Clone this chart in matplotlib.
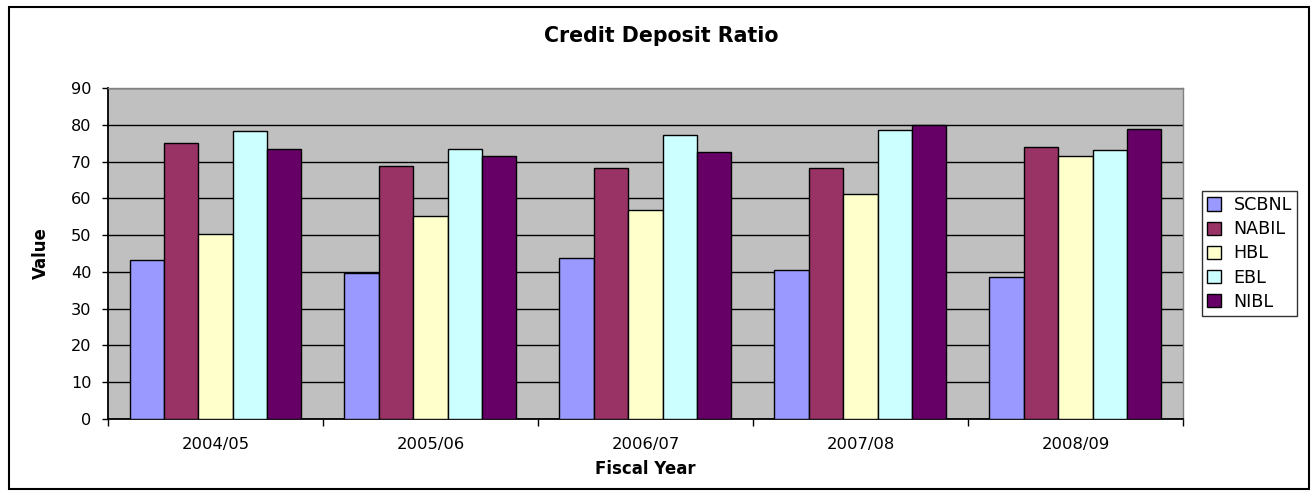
import numpy as np
import matplotlib
matplotlib.use('Agg')
import matplotlib.pyplot as plt
from matplotlib.patches import Rectangle

# wide sans to mimic the stretched Arial of the original
plt.rcParams['font.family'] = ['DejaVu Sans']

years = ['2004/05', '2005/06', '2006/07', '2007/08', '2008/09']
banks = ['SCBNL', 'NABIL', 'HBL', 'EBL', 'NIBL']
scbnl = [43.3, 39.6, 43.7, 40.6, 38.6]
nabil = [75.1, 68.7, 68.3, 68.3, 74.0]
hbl = [50.3, 55.3, 56.7, 61.3, 71.6]
ebl = [78.4, 73.4, 77.3, 78.6, 73.2]
nibl = [73.4, 71.4, 72.6, 79.9, 78.8]
colors = ['#9999FF', '#993366', '#FFFFCC', '#CCFFFF', '#660066']


def main():
    fig = plt.figure(figsize=(13.14, 4.95), dpi=100)
    ax = fig.add_axes([0.0822, 0.1535, 0.818, 0.6687])
    ax.set_facecolor('#C0C0C0')

    series = [scbnl, nabil, hbl, ebl, nibl]
    x = np.arange(len(years))
    w = 0.16
    for i, (name, vals) in enumerate(zip(banks, series)):
        ax.bar(x + (i - 2) * w, vals, width=w, color=colors[i],
               edgecolor='black', linewidth=1.0, label=name, zorder=3)

    ax.set_xlim(-0.5, len(years) - 0.5)
    ax.set_ylim(0, 90)
    ax.set_yticks(range(0, 91, 10))
    ax.yaxis.grid(True, color='black', linewidth=1.0, zorder=1)
    ax.set_axisbelow(True)

    ax.set_xticks(x)
    ax.set_xticklabels(years)
    ax.set_xticks(np.arange(-0.5, len(years)), minor=True)
    ax.tick_params(axis='x', which='major', length=0, pad=13, labelsize=11.8)
    ax.tick_params(axis='x', which='minor', length=5, width=1, direction='out')
    ax.tick_params(axis='y', length=4.3, width=1, direction='out', labelsize=11.6, pad=7.5)

    for s in ['top', 'right']:
        ax.spines[s].set_color('#808080')
        ax.spines[s].set_linewidth(1)
    for s in ['left', 'bottom']:
        ax.spines[s].set_color('black')
        ax.spines[s].set_linewidth(1.3)

    fig.text(0.503, 0.928, 'Credit Deposit Ratio', ha='center', va='center',
             fontsize=14.8, fontweight='bold')
    fig.text(0.491, 0.052, 'Fiscal Year', ha='center', va='center',
             fontsize=12, fontweight='bold')
    fig.text(0.031, 0.489, 'Value', ha='center', va='center', rotation=90,
             fontsize=12, fontweight='bold')

    leg = fig.legend(loc='center left', bbox_to_anchor=(0.9148, 0.488),
                     frameon=True, fancybox=False, fontsize=12.6,
                     handlelength=0.8, handleheight=0.8, handletextpad=0.7,
                     labelspacing=0.35, borderpad=0.3, borderaxespad=0)
    leg.get_frame().set_edgecolor('black')
    leg.get_frame().set_linewidth(1)

    fig.patches.append(Rectangle((0.007, 0.012), 0.989, 0.974, transform=fig.transFigure,
                                 fill=False, edgecolor='black', linewidth=1.5))

    fig.savefig('out.png', dpi=100)
    plt.close(fig)


if __name__ == '__main__':
    main()
